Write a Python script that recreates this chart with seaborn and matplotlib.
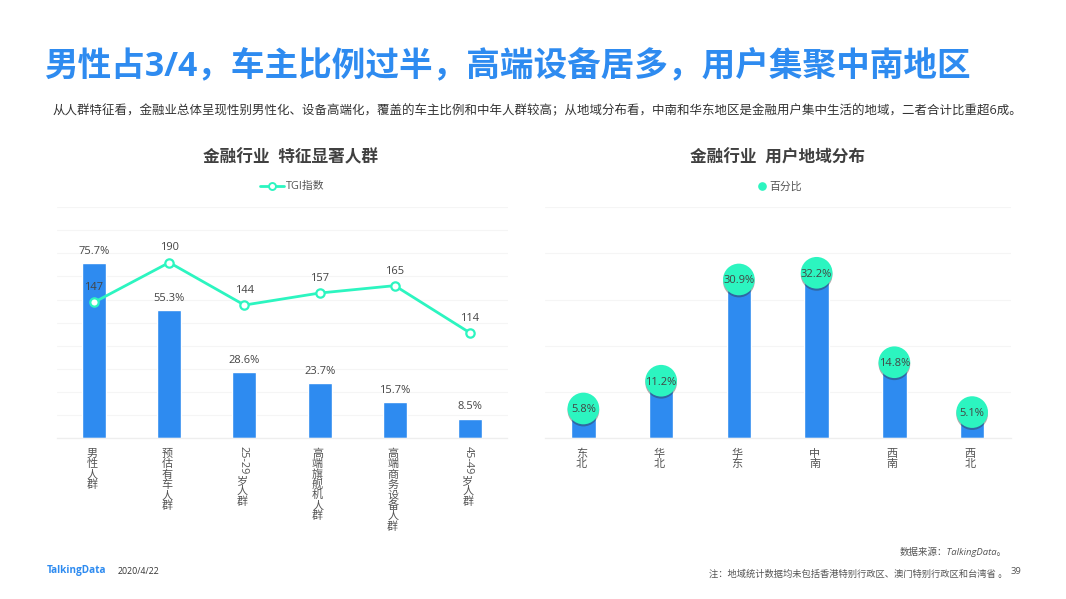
import matplotlib
matplotlib.use("Agg")
import matplotlib.pyplot as plt
import matplotlib.patheffects as pe
from matplotlib.lines import Line2D
from matplotlib.transforms import ScaledTranslation
import seaborn as sns

groups = ["男性人群", "预估有车人群", "25-29 岁人群", "高端旗舰机人群", "高端商务设备人群", "45-49 岁人群"]
share = [75.7, 55.3, 28.6, 23.7, 15.7, 8.5]
tgi = [147, 190, 144, 157, 165, 114]
regions = ["东北", "华北", "华东", "中南", "西南", "西北"]
pct = [5.8, 11.2, 30.9, 32.2, 14.8, 5.1]

title = "男性占3/4，车主比例过半，高端设备居多，用户集聚中南地区"
subtitle = "从人群特征看，金融业总体呈现性别男性化、设备高端化，覆盖的车主比例和中年人群较高；从地域分布看，中南和华东地区是金融用户集中生活的地域，二者合计比重超6成。"
source = "数据来源：TalkingData。"
note = "注：地域统计数据均未包括香港特别行政区、澳门特别行政区和台湾省 。"

BLUE = "#2E8BF0"
GREEN = "#2CF5C0"
TEXT = "#444444"
W, H = 1066, 599

sns.set_theme(style="white")
plt.rcParams["font.family"] = ["Open Sans", "Noto Sans CJK SC", "DejaVu Sans"]

fig = plt.figure(figsize=(W / 100, H / 100), dpi=100, facecolor="white")


def px_axes(x0, x1, top, bottom):
    return fig.add_axes([x0 / W, 1 - bottom / H, (x1 - x0) / W, (bottom - top) / H])


def px_text(x, y, s, **kw):
    kw.setdefault("va", "center")
    return fig.text(x / W, 1 - y / H, s, **kw)


def clean(ax, ymax, step):
    ax.set_xlim(-0.5, 5.5)
    ax.set_ylim(0, ymax)
    ax.set_yticks([i * step for i in range(int(ymax / step) + 1)])
    ax.set_ylabel("")
    ax.set_xlabel("")
    ax.tick_params(axis="y", left=False, labelleft=False)
    ax.tick_params(axis="x", bottom=False, pad=1.5)
    ax.grid(axis="y", color="#f5f5f5", lw=0.8)
    ax.grid(axis="x", visible=False)
    ax.set_axisbelow(True)
    sns.despine(ax=ax, left=True, top=True, right=True)
    ax.spines["bottom"].set_color("#eeeeee")
    ax.spines["bottom"].set_linewidth(0.9)


def stack(s):
    return "\n".join(s)


def x_labels(ax, labels):
    ax.set_xticks(range(len(labels)))
    ax.set_xticklabels(labels, fontsize=8, color="#555555", linespacing=0.93, va="top")
    for lab in ax.get_xticklabels():
        lab.set_transform(lab.get_transform() + ScaledTranslation(-2 / 100, 0, fig.dpi_scale_trans))


# left chart
ax = px_axes(56.5, 507.5, 207, 438.3)
sns.barplot(x=groups, y=share, color=BLUE, saturation=1, width=0.32, ax=ax)
clean(ax, 100, 10)

x_labels(ax, ["" if g[0].isdigit() else stack(g) for g in groups])
for i, g in enumerate(groups):
    if g[0].isdigit():
        # digits run sideways, the rest stacks below them
        age, rest = g.split(" ")
        ax.annotate(age, (i, 0), xycoords=("data", "axes fraction"), xytext=(-1.2, -5.5),
                    textcoords="offset points", rotation=-90, ha="center", va="top",
                    fontsize=7.8, color="#555555")
        ax.annotate(stack(rest), (i, 0), xycoords=("data", "axes fraction"), xytext=(-1.4, -27),
                    textcoords="offset points", ha="center", va="top", linespacing=0.93,
                    fontsize=8, color="#555555")
for i, v in enumerate(share):
    ax.annotate(f"{v}%", (i, v), xytext=(0, 4.5), textcoords="offset points", ha="center", va="bottom",
                fontsize=8, color=TEXT)

ax_t = ax.twinx()
ax.tick_params(axis="y", left=False, labelleft=False)
sns.lineplot(x=groups, y=tgi, sort=False, color=GREEN, lw=2, marker="o", markersize=6,
             markerfacecolor="white", markeredgecolor=GREEN, markeredgewidth=1.6, ax=ax_t)
ax_t.set_ylim(0, 250)
ax_t.set_xlim(-0.5, 5.5)
ax_t.set_ylabel("")
ax_t.set_yticks([])
ax_t.grid(False)
sns.despine(ax=ax_t, left=True, top=True, right=True, bottom=True)
for i, v in enumerate(tgi):
    ax_t.annotate(str(v), (i, v), xytext=(0, 6.5), textcoords="offset points", ha="center", va="bottom",
                  fontsize=8, color=TEXT)

line_handle = Line2D([], [], color=GREEN, lw=2, marker="o", markersize=5, markerfacecolor="white",
                     markeredgecolor=GREEN, markeredgewidth=1.4)
fig.legend([line_handle], ["TGI指数"], loc="center", bbox_to_anchor=(292 / W, 1 - 187 / H), frameon=False,
           fontsize=7.8, labelcolor="#555555", handlelength=2.2, handletextpad=0.2)

# right chart
ax2 = px_axes(544.5, 1011, 207, 438.3)
sns.barplot(x=regions, y=pct, color=BLUE, saturation=1, width=0.315, ax=ax2)
clean(ax2, 45, 9)
x_labels(ax2, [stack(r) for r in regions])
sns.scatterplot(x=regions, y=pct, s=520, color=GREEN, edgecolor="none", zorder=4, ax=ax2, clip_on=False,
                path_effects=[pe.SimplePatchShadow(offset=(0, -1.5), shadow_rgbFace="#333333", alpha=0.4),
                              pe.Normal()])
for i, v in enumerate(pct):
    ax2.annotate(f"{v}%", (i, v), xytext=(0, -1), textcoords="offset points", ha="center", va="center",
                 fontsize=8, color=TEXT, zorder=5)

dot_handle = Line2D([], [], color=GREEN, lw=0, marker="o", markersize=5.2)
fig.legend([dot_handle], ["百分比"], loc="center", bbox_to_anchor=(780 / W, 1 - 187 / H), frameon=False,
           fontsize=7.8, labelcolor="#555555", handlelength=0.8, handletextpad=0.25)

# header
px_text(44.5, 66.5, title, fontsize=24.2, fontweight="bold", color=BLUE, ha="left")
px_text(52.5, 111, subtitle, fontsize=8.97, color="#333333", ha="left")
px_text(290.5, 157.5, "金融行业  特征显著人群", fontsize=12, fontweight="bold", color="#404040", ha="center")
px_text(778, 157.5, "金融行业  用户地域分布", fontsize=12, fontweight="bold", color="#404040", ha="center")

# footer
px_text(47, 571, "TalkingData", fontsize=7.2, fontweight="bold", color=BLUE, ha="left")
px_text(118, 572, "2020/4/22", fontsize=6.3, color="#333333", ha="left")
px_text(1007, 552, source, fontsize=6.8, style="italic", color="#555555", ha="right")
px_text(1007, 574, note, fontsize=6.7, style="italic", color="#555555", ha="right")
px_text(1011, 571, "39", fontsize=6.8, color="#555555", ha="left")

fig.savefig("out.png", dpi=100)
